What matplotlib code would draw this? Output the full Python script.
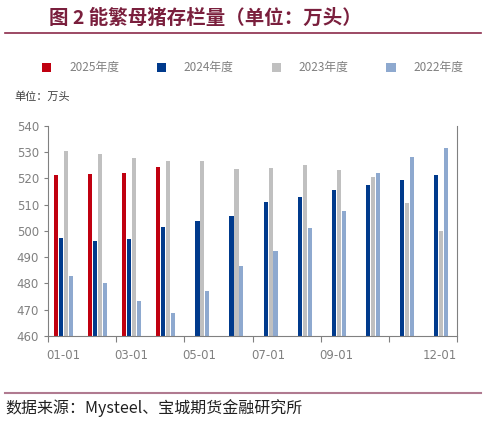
import matplotlib
matplotlib.use("Agg")
import matplotlib.pyplot as plt
import numpy as np

plt.rcParams['font.family'] = ['Noto Sans CJK SC', 'DejaVu Sans']

months = ["01-01","02-01","03-01","04-01","05-01","06-01","07-01","08-01","09-01","10-01","11-01","12-01"]
tick_labels = ["01-01","03-01","05-01","07-01","09-01","","12-01"]
s2025 = [521.3, 521.7, 522.1, 524.2]
s2024 = [497.3, 496.0, 497.0, 501.7, 503.9, 505.8, 511.2, 513.0, 515.7, 517.6, 519.5, 521.4]
s2023 = [530.4, 529.3, 527.8, 526.6, 526.5, 523.5, 523.8, 525.3, 523.1, 520.6, 510.6, 500.0]
s2022 = [482.8, 480.2, 473.2, 468.6, 477.2, 486.8, 492.5, 501.2, 507.5, 522.0, 528.2, 531.6]
names = ["2025年度","2024年度","2023年度","2022年度"]
colors = ["#C00010","#003A8C","#C0C0C0","#8EA9CF"]

fig = plt.figure(figsize=(4.86,4.23), dpi=100)
ax = fig.add_axes([0.0988, 0.2057, 0.8415, 0.4965])
offs = [0.24, 0.385, 0.53, 0.675]
w = 0.12
for s, c, o, n in zip([s2025, s2024, s2023, s2022], colors, offs, names):
    x = np.arange(len(s)) + o
    ax.bar(x, np.array(s) - 460, bottom=460, width=w, color=c, label=n)
ax.set_xlim(0, 12)
ax.set_ylim(460, 540)
ax.set_yticks(range(460, 541, 10))
ticks = list(range(0, 13, 2))
ax.set_xticks(ticks)
ax.set_xticklabels([])
for t, l in zip(ticks, tick_labels):
    dx = -0.5 if t == 12 else 0.45
    ax.text(t + dx, -0.06, l, transform=ax.get_xaxis_transform(), ha='center', va='top',
            fontsize=8.5, color='#808080', family='DejaVu Sans')
ax.tick_params(axis='y', labelsize=8.5, labelcolor='#808080', color='#808080', length=3)
ax.tick_params(axis='x', color='#808080', length=4, direction='out')
for sp in ['left','bottom','right']:
    ax.spines[sp].set_color('#808080')
ax.spines['top'].set_visible(False)
for lab in ax.get_yticklabels():
    lab.set_family('DejaVu Sans')

leg = fig.legend(loc='center', bbox_to_anchor=(0.52, 0.84), ncol=4, frameon=False,
                 fontsize=8.5, handlelength=0.8, handleheight=0.8, columnspacing=3.2, handletextpad=1.5)
for t in leg.get_texts():
    t.set_color('#808080')

fig.text(0.0988-0.07, 0.765, "单位：万头", fontsize=8, color='#404040')
fig.text(0.1, 0.958, "图 2 能繁母猪存栏量（单位：万头）", fontsize=14, fontweight='bold',
         color='#7A1F3D', va='center')
fig.add_artist(plt.Line2D([0.01, 0.99], [0.922, 0.922], color='#8B2A4A', lw=1.2))
fig.add_artist(plt.Line2D([0.01, 0.99], [0.071, 0.071], color='#B07A90', lw=1.5))
fig.text(0.01, 0.035, "数据来源：Mysteel、宝城期货金融研究所", fontsize=11.5, color='#202020', va='center')
fig.savefig("out.png", dpi=100)
